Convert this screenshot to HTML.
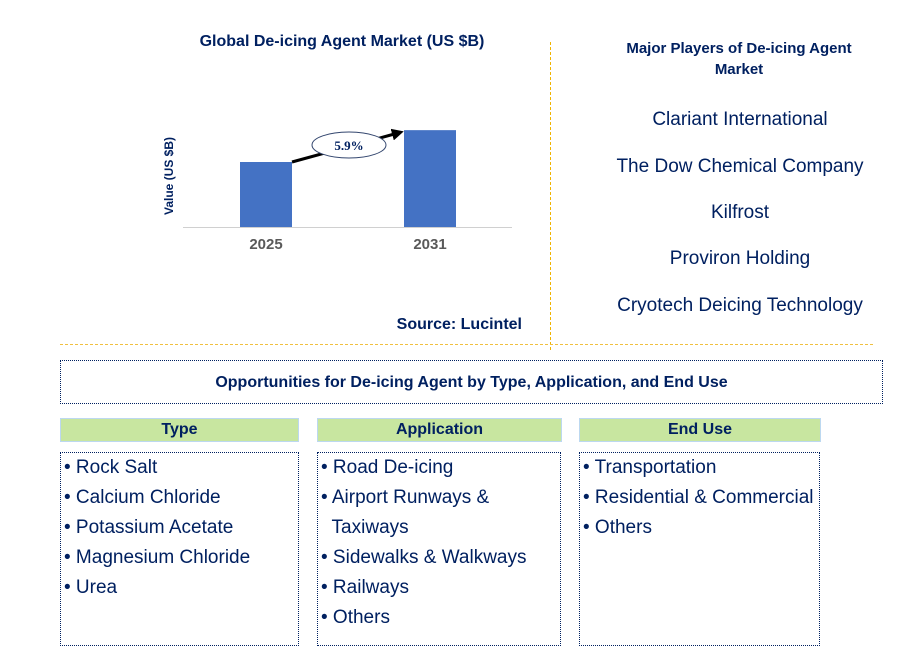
<!DOCTYPE html>
<html><head><meta charset="utf-8"><style>
body{margin:0;width:897px;height:657px;background:#fff;font-family:"Liberation Sans",sans-serif;color:#002060;position:relative;overflow:hidden}
.a{position:absolute}
.t{font-weight:bold;font-size:16px;text-align:center}
.hdr{position:absolute;background:#c8e6a0;border:1px solid #bcd8f0;font-weight:bold;font-size:16px;text-align:center;line-height:22px;height:22px}
.box{position:absolute;border:1px dotted #002060;font-size:19px;line-height:30px;padding:0 0 0 3px;box-sizing:border-box}
.pl{position:absolute;width:340px;text-align:center;font-size:19px;left:570px}
</style></head><body>
<div class="a t" style="left:142px;top:33px;width:400px">Global De-icing Agent Market (US $B)</div>
<svg class="a" style="left:0;top:0" width="560" height="340">
<defs><marker id="ah" markerWidth="4" markerHeight="4" refX="2" refY="2" orient="auto"><path d="M0,0L4,2L0,4z" fill="#000"/></marker></defs>
<g id="bars"></g>
<line x1="183" y1="227.5" x2="512" y2="227.5" stroke="#d0d0d0"/>
<text x="173" y="176" transform="rotate(-90 173 176)" text-anchor="middle" font-size="12" font-weight="bold" fill="#002060">Value (US $B)</text>
<line x1="292" y1="162" x2="398" y2="133" stroke="#000" stroke-width="3" marker-end="url(#ah)"/>
<ellipse cx="349" cy="145" rx="37" ry="13" fill="#fff" stroke="#33466e"/>
<text x="349" y="150" text-anchor="middle" font-family="Liberation Serif" font-weight="bold" font-size="13" fill="#002060">5.9%</text>
</svg>
<script>
const categories=["2025","2031"];
const values=[2.0,2.98];
const base=227,scale=32.5,xs=[266,430],bw=52;
const g=document.getElementById('bars');
categories.forEach((c,i)=>{
 const r=document.createElementNS('http://www.w3.org/2000/svg','rect');
 const h=values[i]*scale;
 r.setAttribute('x',xs[i]-bw/2);r.setAttribute('y',base-h);r.setAttribute('width',bw);r.setAttribute('height',h);r.setAttribute('fill','#4472c4');
 
 
 g.appendChild(r);
 const t=document.createElementNS('http://www.w3.org/2000/svg','text');
 t.setAttribute('x',xs[i]);t.setAttribute('y',249);t.setAttribute('text-anchor','middle');t.setAttribute('font-size','15');t.setAttribute('font-weight','bold');t.setAttribute('fill','#595959');
 t.textContent=c;
 
 
 g.appendChild(t);
});
</script>
<div class="a t" style="left:370px;top:316px;width:152px;text-align:right">Source: Lucintel</div>
<div class="a" style="left:550px;top:42px;height:308px;border-left:1px dashed #f0b400"></div>
<div class="a" style="left:60px;top:344px;width:813px;border-top:1px dashed #f0c040"></div>
<div class="a t" style="left:609px;top:38px;width:260px;line-height:21px;font-size:15px">Major Players of De-icing Agent Market</div>
<div class="pl" style="top:109px">Clariant International</div>
<div class="pl" style="top:156px">The Dow Chemical Company</div>
<div class="pl" style="top:202px">Kilfrost</div>
<div class="pl" style="top:248px">Proviron Holding</div>
<div class="pl" style="top:295px">Cryotech Deicing Technology</div>
<div class="a t" style="left:60px;top:360px;width:823px;height:44px;border:1px dotted #002060;line-height:43px;box-sizing:border-box">Opportunities for De-icing Agent by Type, Application, and End Use</div>
<div class="hdr" style="left:60px;top:418px;width:237px">Type</div>
<div class="hdr" style="left:317px;top:418px;width:243px">Application</div>
<div class="hdr" style="left:579px;top:418px;width:240px">End Use</div>
<div class="box" style="left:60px;top:452px;width:239px;height:194px">• Rock Salt<br>• Calcium Chloride<br>• Potassium Acetate<br>• Magnesium Chloride<br>• Urea</div>
<div class="box" style="left:317px;top:452px;width:244px;height:194px">• Road De-icing<br>• Airport Runways &amp;<br>&nbsp;&nbsp;Taxiways<br>• Sidewalks &amp; Walkways<br>• Railways<br>• Others</div>
<div class="box" style="left:579px;top:452px;width:241px;height:194px">• Transportation<br>• Residential &amp; Commercial<br>• Others</div>
</body></html>
